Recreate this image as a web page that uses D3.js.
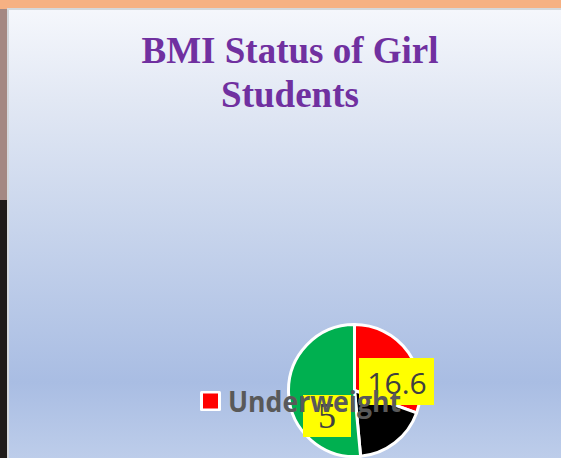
<!DOCTYPE html>
<html>
<head>
<meta charset="utf-8">
<script src="https://cdn.jsdelivr.net/npm/d3@7"></script>
<style>
  html, body { margin: 0; padding: 0; background: #ffffff; }
  svg { display: block; }
</style>
</head>
<body>
<svg id="chart" width="561" height="458"></svg>
<script>
// BMI status shares, drawn clockwise from 12 o'clock
const categories = ["Underweight", "Overweight", "Normal"];
const values = [16.6, 9.8, 28.0];
const sliceColors = ["#ff0000", "#000000", "#00b050"];

// Legend entries shown on the slide
const legendItems = ["Underweight"];

// Data labels shown in yellow callouts
const labelTexts = ["16.6", "5"];

const titleLines = ["BMI Status of Girl", "Students"];

const W = 561, H = 458;
const svg = d3.select("#chart");
const defs = svg.append("defs");

// Slide backdrop gradient
const grad = defs.append("linearGradient")
  .attr("id", "slideBg").attr("x1", 0).attr("y1", 0).attr("x2", 0).attr("y2", 1);
[[0, "#f5f7fc"], [0.2, "#e2e8f4"], [0.45, "#cbd7ed"], [0.83, "#a9bde3"], [1, "#bdcdea"]]
  .forEach(([o, c]) => grad.append("stop").attr("offset", o).attr("stop-color", c));

// Surroundings: peach top bar and dark strip on the left
svg.append("rect").attr("x", 0).attr("y", 0).attr("width", W).attr("height", H).attr("fill", "#f6b183");
svg.append("rect").attr("x", 0).attr("y", 9).attr("width", 8).attr("height", 195).attr("fill", "#a48882");
svg.append("rect").attr("x", 0).attr("y", 200).attr("width", 8).attr("height", H - 200).attr("fill", "#1f1b19");

// Slide frame and body
svg.append("rect").attr("x", 7).attr("y", 8).attr("width", W - 7).attr("height", H - 8).attr("fill", "#d4d8dc");
svg.append("rect").attr("x", 9).attr("y", 10).attr("width", W - 9).attr("height", H - 10).attr("fill", "url(#slideBg)");

// Title
const title = svg.append("text")
  .attr("text-anchor", "middle")
  .attr("font-family", "'Liberation Serif', 'Times New Roman', serif")
  .attr("font-weight", "bold")
  .attr("font-size", 37)
  .attr("fill", "#7030a0");
titleLines.forEach((line, i) => {
  title.append("tspan").attr("x", 290).attr("y", 63 + i * 44).text(line);
});

// Pie
const cx = 354.5, cy = 390.5, r = 66;
const pie = d3.pie().sort(null).value(d => d)(values);
const arc = d3.arc().innerRadius(0).outerRadius(r);
const color = d3.scaleOrdinal().domain(categories).range(sliceColors);

const pieG = svg.append("g").attr("transform", `translate(${cx},${cy})`);
pieG.selectAll("path")
  .data(pie)
  .join("path")
  .attr("d", arc)
  .attr("fill", (d, i) => color(categories[i]))
  .attr("stroke", "#ffffff")
  .attr("stroke-width", 3)
  .attr("stroke-linejoin", "round");

// Data label callouts
const labelSpecs = [
  { text: labelTexts[0], box: [359, 358, 75, 47], tx: 397, ty: 394,
    font: "'Open Sans', 'Liberation Sans', sans-serif", size: 30 },
  { text: labelTexts[1], box: [303, 395, 48, 42], tx: 327, ty: 428,
    font: "'Liberation Serif', 'DejaVu Serif', serif", size: 36 }
];
const lblG = svg.append("g");
labelSpecs.forEach(s => {
  lblG.append("rect")
    .attr("x", s.box[0]).attr("y", s.box[1])
    .attr("width", s.box[2]).attr("height", s.box[3])
    .attr("fill", "#ffff00");
  lblG.append("text")
    .attr("x", s.tx).attr("y", s.ty)
    .attr("text-anchor", "middle")
    .attr("font-family", s.font)
    .attr("font-size", s.size)
    .attr("fill", "#404040")
    .text(s.text);
});

// Legend, drawn on top
const legend = svg.append("g").attr("transform", "translate(200,391)");
legendItems.forEach((name, i) => {
  legend.append("rect")
    .attr("x", 0).attr("y", 0).attr("width", 21).attr("height", 20)
    .attr("fill", "#ffffff").attr("rx", 1.5);
  legend.append("rect")
    .attr("x", 3).attr("y", 2.5).attr("width", 15).attr("height", 15)
    .attr("fill", color(name));
  legend.append("text")
    .attr("x", 28).attr("y", 20.5)
    .attr("font-family", "'Open Sans', 'Liberation Sans', sans-serif")
    .attr("font-weight", "bold")
    .attr("font-size", 28)
    .attr("fill", "#595959")
    .attr("textLength", 173)
    .attr("lengthAdjust", "spacingAndGlyphs")
    .text(name);
});
</script>
</body>
</html>
